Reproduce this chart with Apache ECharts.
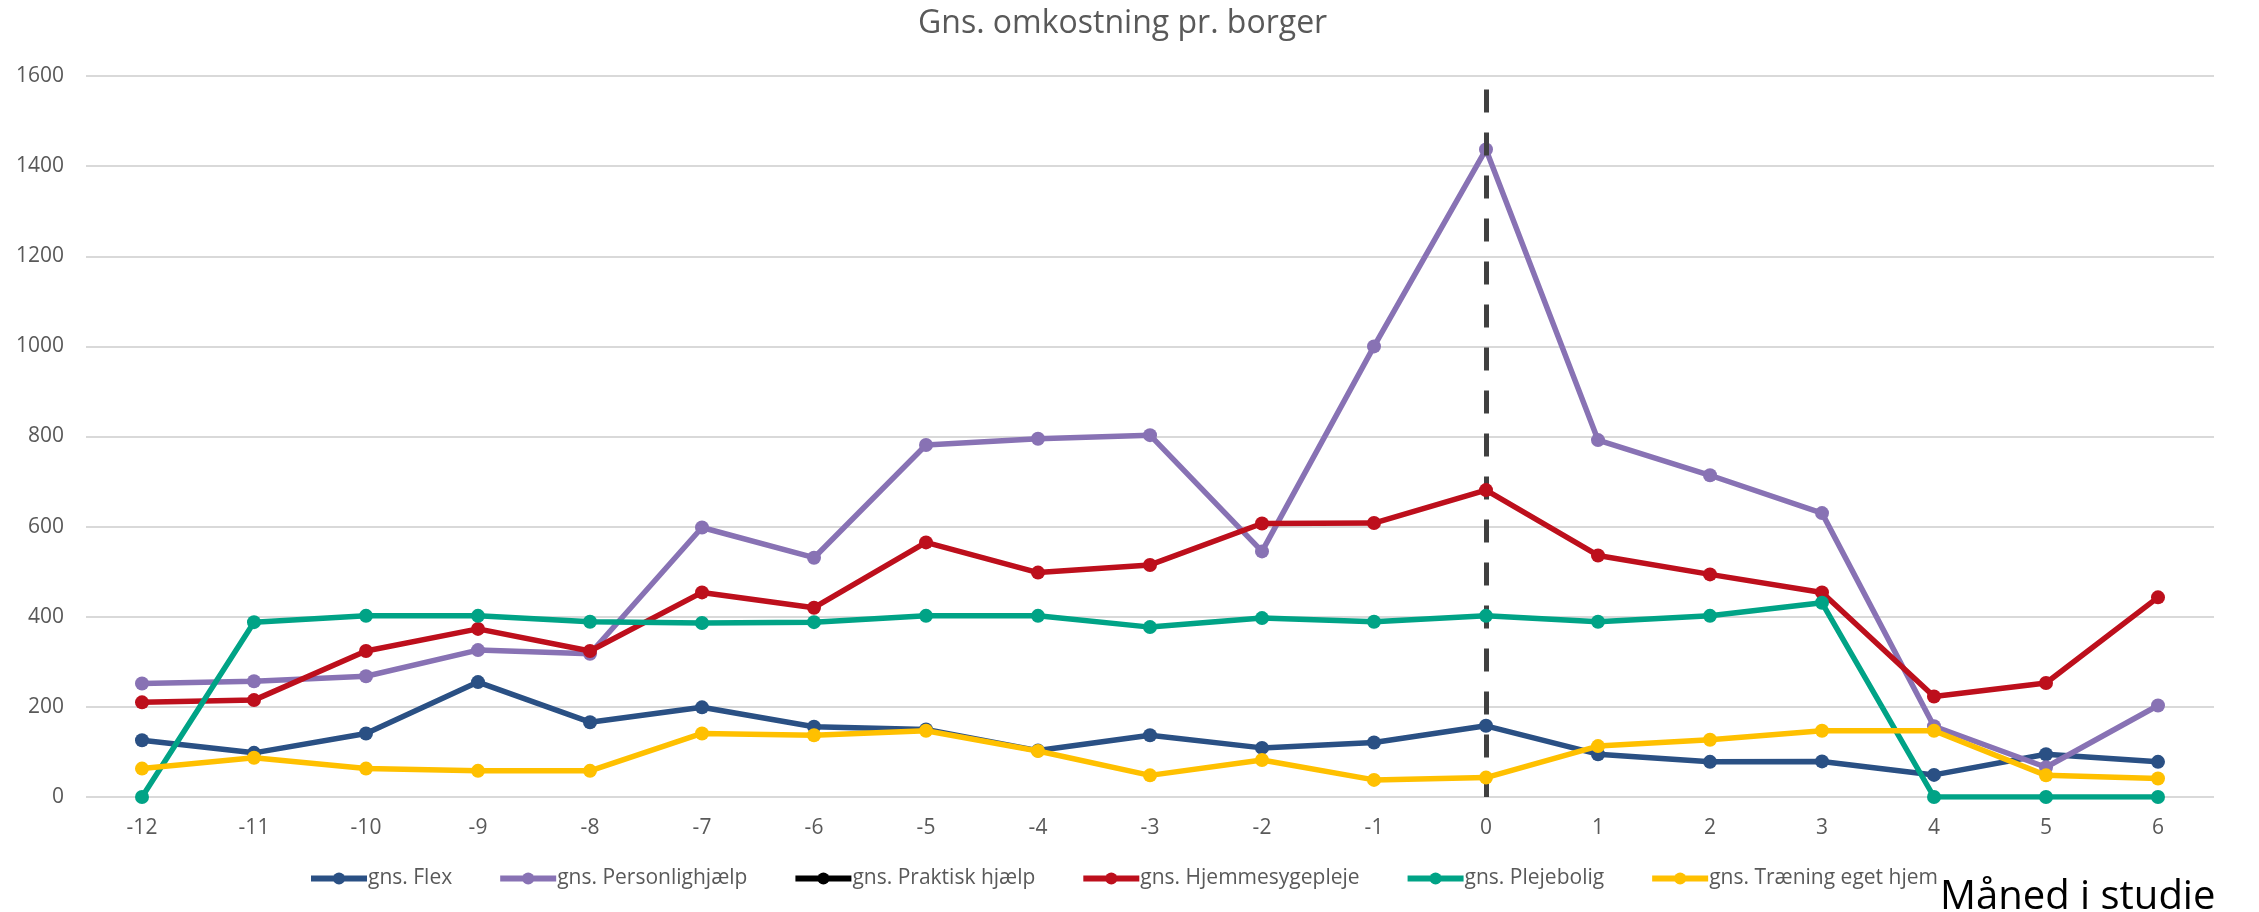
<!DOCTYPE html>
<html>
<head>
<meta charset="utf-8">
<script src="https://cdn.jsdelivr.net/npm/echarts@6/dist/echarts.min.js"></script>
<style>
html, body { margin: 0; padding: 0; background: #ffffff; }
#chart { width: 2259px; height: 912px; }
</style>
</head>
<body>
<div id="chart"></div>
<script>
const titleText = 'Gns. omkostning pr. borger';
const axisName = 'Måned i studie';
const months = ['-12','-11','-10','-9','-8','-7','-6','-5','-4','-3','-2','-1','0','1','2','3','4','5','6'];
const yTicks = { min: 0, max: 1600, interval: 200 };

const seriesNames = ['gns. Flex', 'gns. Personlighjælp', 'gns. Praktisk hjælp', 'gns. Hjemmesygepleje', 'gns. Plejebolig', 'gns. Træning eget hjem'];
const flex = [126, 98, 141, 255, 166, 199, 156, 150, 103, 137, 109, 121, 158, 95, 78, 79, 49, 95, 78];
const personlighjaelp = [252, 257, 268, 326, 318, 598, 531, 781, 795, 803, 545, 1000, 1437, 792, 714, 630, 157, 66, 203];
const praktiskHjaelp = [];
const hjemmesygepleje = [210, 215, 324, 373, 324, 454, 420, 565, 498, 515, 607, 608, 681, 536, 494, 454, 223, 253, 443];
const plejebolig = [0, 388, 402, 402, 389, 386, 388, 402, 402, 377, 397, 389, 402, 389, 402, 431, 0, 0, 0];
const traening = [63, 87, 63, 58, 58, 141, 137, 147, 102, 48, 82, 38, 43, 113, 127, 147, 147, 48, 41];

const markerMonth = '0';
const markerTop = 1570;

const colors = ['#2A5084', '#8872B4', '#000000', '#BD0F1C', '#00A386', '#FFC000'];
const allData = [flex, personlighjaelp, praktiskHjaelp, hjemmesygepleje, plejebolig, traening];

const FONT = '"Open Sans", "Noto Sans", sans-serif';
const chart = echarts.init(document.getElementById('chart'), null, { renderer: 'canvas' });

const series = seriesNames.map((name, i) => {
  const s = {
    name: name,
    type: 'line',
    data: allData[i],
    symbol: 'circle',
    symbolSize: 14,
    showSymbol: true,
    lineStyle: { width: 5.5, color: colors[i] },
    itemStyle: { color: colors[i] },
    emphasis: { disabled: true },
    animation: false,
    z: 2 + i
  };
  if (i === 0) {
    s.markLine = {
      silent: true,
      symbol: ['none', 'none'],
      animation: false,
      label: { show: false },
      lineStyle: { color: '#404040', width: 5, type: [23, 20] },
      data: [[{ coord: [markerMonth, markerTop] }, { coord: [markerMonth, 0] }]]
    };
  }
  return s;
});

chart.setOption({
  backgroundColor: '#ffffff',
  animation: false,
  title: [
    {
      text: titleText,
      left: 913,
      top: 3,
      textStyle: { fontFamily: FONT, fontSize: 32, fontWeight: 'normal', color: '#595959' }
    },
    {
      text: axisName,
      left: 1940,
      top: 878,
      padding: 0,
      textStyle: { fontFamily: FONT, fontSize: 40, fontWeight: 'normal', color: '#000000' }
    }
  ],
  legend: {
    data: seriesNames,
    left: 308,
    top: 868,
    padding: 0,
    itemWidth: 56,
    itemHeight: 15,
    itemGap: 45,
    lineStyle: { width: 6 },
    textStyle: { fontFamily: FONT, fontSize: 21, color: '#595959', padding: [0, 0, 0, -4] },
    selectedMode: false
  },
  grid: { left: 86, right: 45, top: 76, bottom: 115, containLabel: false },
  xAxis: {
    type: 'category',
    data: months,
    boundaryGap: true,
    axisLine: { show: false },
    axisTick: { show: false },
    axisLabel: { fontFamily: FONT, fontSize: 21, color: '#595959', margin: 21 },
    splitLine: { show: false }
  },
  yAxis: {
    type: 'value',
    min: yTicks.min,
    max: yTicks.max,
    interval: yTicks.interval,
    axisLine: { show: false },
    axisTick: { show: false },
    axisLabel: { fontFamily: FONT, fontSize: 21, color: '#595959', margin: 22, formatter: function (v) { return String(v); } },
    splitLine: { lineStyle: { color: '#D9D9D9', width: 2 } }
  },
  series: series
});
</script>
</body>
</html>
